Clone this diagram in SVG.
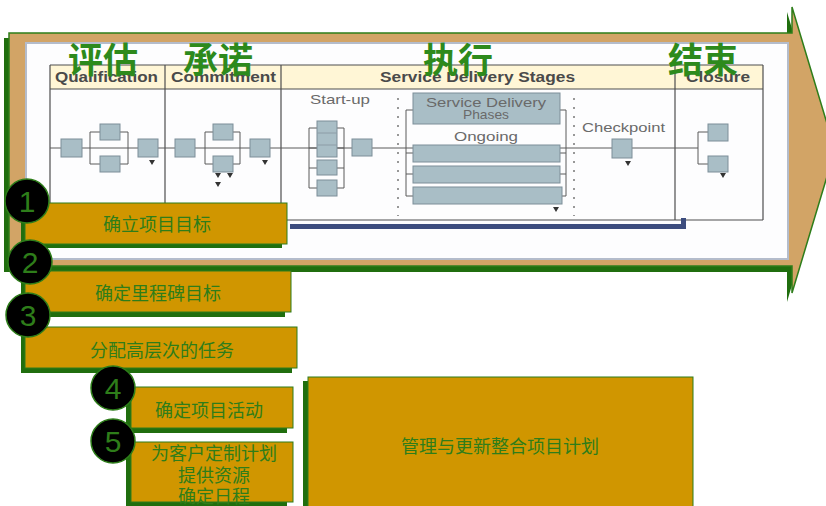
<svg xmlns="http://www.w3.org/2000/svg" width="826" height="506" viewBox="0 0 826 506">
<defs>
<style>
.cn{font-family:"Noto Sans CJK SC","Liberation Sans",sans-serif;}
.title{font-family:"Noto Sans CJK SC","Liberation Sans",sans-serif;font-size:35px;font-weight:bold;fill:#2D8A1C;}
.hdr{font-family:"Liberation Sans",Arial,sans-serif;font-size:14px;font-weight:bold;fill:#4a4a4a;}
.lbl{font-family:"Liberation Sans",Arial,sans-serif;font-size:13px;fill:#6a6a6a;}
.pb{fill:#A9BEC6;stroke:#7C8E98;stroke-width:1;}
.ln{stroke:#5a5a5a;stroke-width:1;fill:none;}
.tline{stroke:#4e4e4e;stroke-width:1.2;fill:none;}
.dot{stroke:#777;stroke-width:1.5;stroke-dasharray:2,7;fill:none;}
.tri{fill:#333;}
.box{fill:#D09600;stroke:#2E7D1A;stroke-width:1;}
.shd{fill:#206E0E;}
.btxt{font-family:"Noto Sans CJK SC","Liberation Sans",sans-serif;font-size:18px;fill:#2E7D1A;text-anchor:middle;}
.circ{fill:#000;stroke:#2E7D1A;stroke-width:1.5;}
.num{font-family:"Liberation Sans",Arial,sans-serif;font-size:30px;fill:#2E7D1A;text-anchor:middle;}
</style>
</defs>

<!-- big arrow -->
<g id="arrow">
<polygon points="4,38 787,38 787,12 830,155 787,302 787,272 4,272" fill="#206E0E"/>
<polygon points="9,33 792,33 792,7 835,150 792,293 792,266 9,266" fill="#D2A466" stroke="#2E7D1A" stroke-width="1.5"/>
</g>

<!-- embedded process picture -->
<g id="process-picture">
<rect x="26" y="43" width="762" height="216" fill="#FDFDFE" stroke="#B4BCCB" stroke-width="2"/>
<rect x="50" y="65" width="713" height="24" fill="#FFF6D6"/>
<line class="tline" x1="50" y1="65" x2="763" y2="65"/>
<line class="tline" x1="50" y1="89" x2="763" y2="89"/>
<line class="tline" x1="50" y1="65" x2="50" y2="220"/>
<line class="tline" x1="165" y1="65" x2="165" y2="220"/>
<line class="tline" x1="281" y1="65" x2="281" y2="220"/>
<line class="tline" x1="675" y1="65" x2="675" y2="220"/>
<line class="tline" x1="763" y1="65" x2="763" y2="220"/>
<line class="tline" x1="50" y1="220" x2="763" y2="220"/>
<rect x="290" y="224" width="396" height="5" fill="#3C4C7E"/>
<rect x="681" y="218" width="5" height="11" fill="#3C4C7E"/>

<text class="hdr" x="55" y="82" textLength="103" lengthAdjust="spacingAndGlyphs">Qualification</text>
<text class="hdr" x="171" y="82" textLength="105" lengthAdjust="spacingAndGlyphs">Commitment</text>
<text class="hdr" x="380" y="82" textLength="195" lengthAdjust="spacingAndGlyphs">Service Delivery Stages</text>
<text class="hdr" x="686" y="82" textLength="64" lengthAdjust="spacingAndGlyphs">Closure</text>

<!-- main flow line -->
<line class="ln" x1="50" y1="148" x2="698" y2="148"/>

<!-- qualification -->
<path class="ln" d="M90,132 V164 M90,132 H100 M90,164 H100 M128,132 V164 M120,132 H128 M120,164 H128"/>
<rect class="pb" x="61" y="139" width="21" height="18"/>
<rect class="pb" x="100" y="124" width="20" height="16"/>
<rect class="pb" x="100" y="156" width="20" height="16"/>
<rect class="pb" x="138" y="139" width="20" height="18"/>
<polygon class="tri" points="149,160 155,160 152,165"/>

<!-- commitment -->
<path class="ln" d="M205,132 V164 M205,132 H213 M205,164 H213 M240,132 V164 M233,132 H240 M233,164 H240"/>
<rect class="pb" x="175" y="139" width="20" height="18"/>
<rect class="pb" x="213" y="124" width="20" height="16"/>
<rect class="pb" x="213" y="156" width="20" height="16"/>
<rect class="pb" x="250" y="139" width="20" height="18"/>
<polygon class="tri" points="262,160 268,160 265,165"/>
<polygon class="tri" points="215,173 221,173 218,178"/>
<polygon class="tri" points="227,173 233,173 230,178"/>
<polygon class="tri" points="215,182 221,182 218,187"/>

<!-- start-up -->
<text class="lbl" x="310" y="104" textLength="60" lengthAdjust="spacingAndGlyphs">Start-up</text>
<path class="ln" d="M309,128 V188 M309,128 H317 M309,148 H317 M309,168 H317 M309,188 H317 M344,128 V188 M337,128 H344 M337,148 H344 M337,168 H344 M337,188 H344"/>
<rect class="pb" x="317" y="121" width="20" height="36"/>
<line x1="317" y1="133" x2="337" y2="133" stroke="#8C9CA6" stroke-width="1"/>
<line x1="317" y1="145" x2="337" y2="145" stroke="#8C9CA6" stroke-width="1"/>
<rect class="pb" x="317" y="160" width="20" height="15"/>
<rect class="pb" x="317" y="180" width="20" height="16"/>
<rect class="pb" x="352" y="139" width="20" height="17"/>

<!-- service delivery phases -->
<line class="dot" x1="398" y1="98" x2="398" y2="216"/>
<line class="dot" x1="574" y1="98" x2="574" y2="216"/>
<path class="ln" d="M406,110 V196 M406,110 H413 M406,153 H413 M406,174 H413 M406,196 H413 M566,110 V196 M560,110 H566 M560,153 H566 M560,174 H566 M562,196 H566"/>
<rect class="pb" x="413" y="93" width="147" height="31"/>
<text class="lbl" x="486" y="107" text-anchor="middle" textLength="120" lengthAdjust="spacingAndGlyphs">Service Delivery</text>
<text class="lbl" x="486" y="119" text-anchor="middle" textLength="46" lengthAdjust="spacingAndGlyphs">Phases</text>
<text class="lbl" x="486" y="141" text-anchor="middle" textLength="64" lengthAdjust="spacingAndGlyphs">Ongoing</text>
<rect class="pb" x="413" y="145" width="147" height="17"/>
<rect class="pb" x="413" y="166" width="147" height="17"/>
<rect class="pb" x="413" y="187" width="149" height="17"/>
<polygon class="tri" points="553,207 559,207 556,212"/>

<!-- checkpoint -->
<text class="lbl" x="582" y="132" textLength="83" lengthAdjust="spacingAndGlyphs">Checkpoint</text>
<rect class="pb" x="612" y="139" width="20" height="19"/>
<polygon class="tri" points="625,161 631,161 628,166"/>

<!-- closure -->
<path class="ln" d="M698,132 V164 M698,132 H708 M698,164 H708"/>
<rect class="pb" x="708" y="124" width="20" height="17"/>
<rect class="pb" x="708" y="156" width="20" height="16"/>
<polygon class="tri" points="720,173 726,173 723,178"/>

<text class="title" x="68" y="73">评估</text>
<text class="title" x="183" y="73">承诺</text>
<text class="title" x="423" y="73">执行</text>
<text class="title" x="668" y="73">结束</text>
</g>

<!-- step boxes -->
<g id="step1">
<rect class="shd" x="21" y="207" width="261" height="41"/>
<rect class="box" x="25" y="203" width="262" height="41"/>
<text class="btxt" x="157" y="231">确立项目目标</text>
<circle class="circ" cx="27" cy="201" r="22"/>
<text class="num" x="27" y="212">1</text>
</g>

<g id="step2">
<rect class="shd" x="21" y="275" width="264" height="42"/>
<rect class="box" x="25" y="271" width="266" height="41"/>
<text class="btxt" x="158" y="300">确定里程碑目标</text>
<circle class="circ" cx="30" cy="262" r="22"/>
<text class="num" x="30" y="273">2</text>
</g>

<g id="step3">
<rect class="shd" x="21" y="331" width="271" height="42"/>
<rect class="box" x="25" y="327" width="272" height="41"/>
<text class="btxt" x="162" y="357">分配高层次的任务</text>
<circle class="circ" cx="28" cy="315" r="22"/>
<text class="num" x="28" y="326">3</text>
</g>

<g id="step4">
<rect class="shd" x="126" y="391" width="161" height="42"/>
<rect class="box" x="131" y="387" width="162" height="41"/>
<text class="btxt" x="209" y="417">确定项目活动</text>
<circle class="circ" cx="113" cy="388" r="22"/>
<text class="num" x="113" y="399">4</text>
</g>

<g id="step5">
<rect class="shd" x="126" y="446" width="161" height="64"/>
<rect class="box" x="131" y="442" width="162" height="60"/>
<text class="btxt" x="214" y="460">为客户定制计划</text>
<text class="btxt" x="214" y="482">提供资源</text>
<text class="btxt" x="214" y="503">确定日程</text>
<circle class="circ" cx="113" cy="441" r="22"/>
<text class="num" x="113" y="452">5</text>
</g>

<g id="integrated-plan">
<rect class="shd" x="303" y="381" width="385" height="130"/>
<rect class="box" x="308" y="377" width="385" height="134"/>
<text class="btxt" x="500" y="453">管理与更新整合项目计划</text>
</g>

<g id="connectors"></g>
</svg>
